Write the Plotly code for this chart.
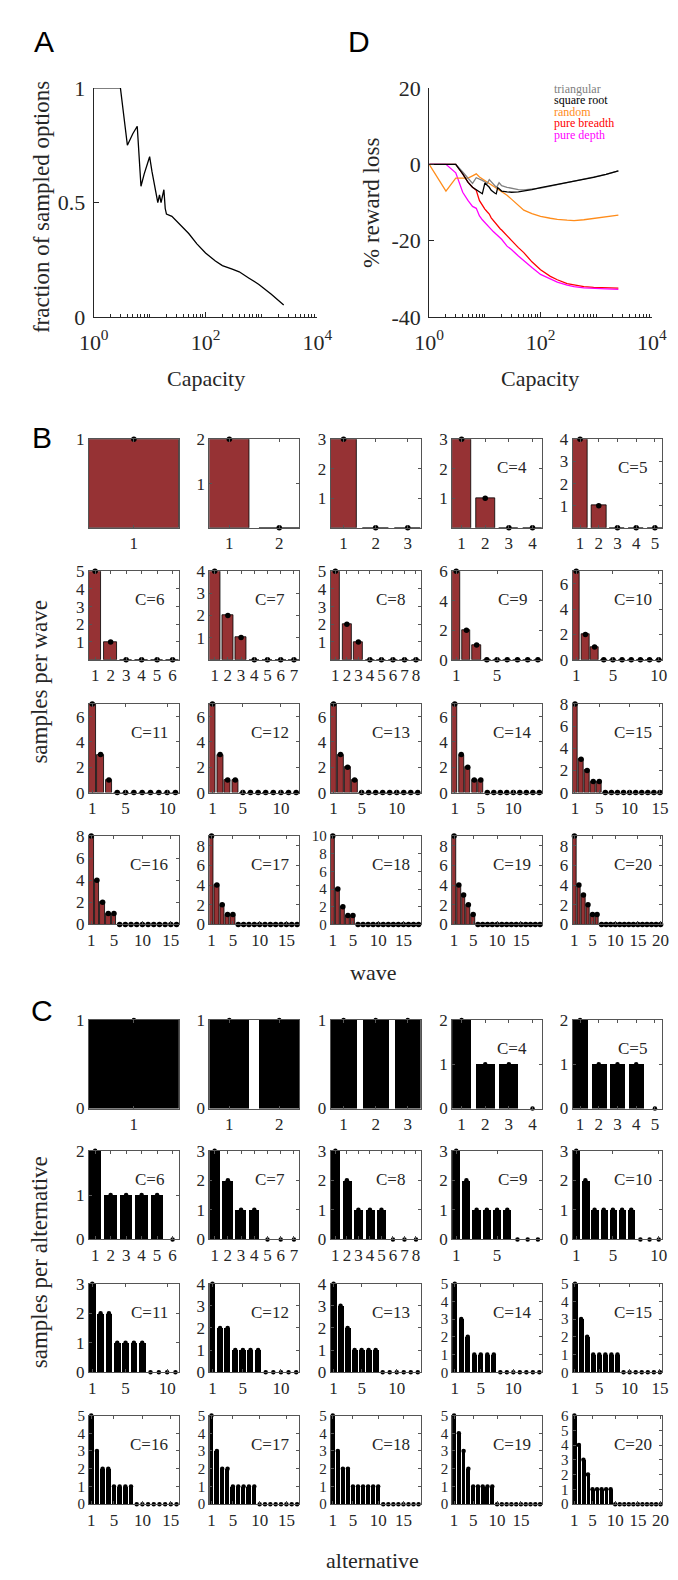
import plotly.graph_objects as go

W, H = 678, 1580

# ---------------- data ----------------
capacity = [1, 2, 3, 4, 5, 6, 7, 8, 9, 10, 11, 12, 13, 14, 15, 16, 17, 18, 19, 20,
            25, 30, 40, 50, 70, 100, 150, 200, 300, 400, 600, 900, 1500, 2500]

frac_sampled = [1, 1, 1, 0.75, 0.8, 0.833, 0.571, 0.625, 0.667, 0.7, 0.636, 0.583, 0.538, 0.5,
                0.533, 0.5, 0.529, 0.556, 0.474, 0.45,
                0.44, 0.42, 0.39, 0.365, 0.32, 0.28, 0.245, 0.225, 0.21, 0.198, 0.17, 0.143, 0.10, 0.053]

loss_triangular = [0, 0, 0, -2.0, -3.5, -5.0, -3.5, -3.8, -4.2, -4.6, -5.0, -4.0, -4.5, -5.0,
                   -5.5, -6.0, -5.5, -4.8, -5.2, -5.6,
                   -6.0, -6.3, -6.6, -6.7, -6.5, -6.2, -5.7, -5.3, -4.8, -4.5, -3.9, -3.4, -2.6, -1.7]
loss_sqrt = [0, 0, 0, -2.5, -4.7, -6.0, -6.7, -7.3, -7.7, -4.9, -5.5, -6.0, -6.8, -7.3,
             -7.5, -7.7, -6.1, -6.4, -6.8, -7.0,
             -7.2, -7.3, -7.2, -7.0, -6.6, -6.1, -5.6, -5.2, -4.8, -4.5, -3.9, -3.4, -2.6, -1.7]
loss_random = [0, -7.0, -3.6, -3.5, -3.6, -3.0, -2.5, -3.3, -3.8, -4.2, -4.6, -4.9, -5.3, -5.6,
               -5.9, -6.2, -6.4, -6.6, -6.8, -7.0,
               -8.1, -9.1, -10.8, -12.0, -12.9, -13.6, -14.1, -14.4, -14.6, -14.7, -14.5, -14.2, -13.8, -13.3]
loss_breadth = [0, 0, 0, -2.5, -4.7, -6.0, -6.8, -9.5, -10.8, -11.7, -12.4, -13.0, -14.0, -14.6,
                -15.2, -15.7, -16.2, -16.6, -16.9, -17.2,
                -18.8, -19.9, -21.8, -23.1, -25.5, -27.6, -29.3, -30.2, -31.2, -31.6, -32.0, -32.2, -32.3, -32.4]
loss_depth = [0, 0, -2.2, -7.3, -9.5, -11.0, -11.5, -13.5, -14.5, -15.3, -16.0, -16.5, -17.0, -17.5,
              -17.9, -18.3, -18.7, -19.0, -19.3, -19.6,
              -21.4, -22.3, -24.0, -25.3, -27.0, -28.8, -30.0, -30.8, -31.6, -32.0, -32.3, -32.5, -32.6, -32.7]

strategy_names = ["triangular", "square root", "random", "pure breadth", "pure depth"]
strategy_colors = ["#808080", "#000000", "#ff8c1a", "#ff0000", "#ff00ff"]

samples_per_wave = [
    [1],
    [2, 0],
    [3, 0, 0],
    [3, 1, 0, 0],
    [4, 1, 0, 0, 0],
    [5, 1, 0, 0, 0, 0],
    [4, 2, 1, 0, 0, 0, 0],
    [5, 2, 1, 0, 0, 0, 0, 0],
    [6, 2, 1, 0, 0, 0, 0, 0, 0],
    [7, 2, 1, 0, 0, 0, 0, 0, 0, 0],
    [7, 3, 1, 0, 0, 0, 0, 0, 0, 0, 0],
    [7, 3, 1, 1, 0, 0, 0, 0, 0, 0, 0, 0],
    [7, 3, 2, 1, 0, 0, 0, 0, 0, 0, 0, 0, 0],
    [7, 3, 2, 1, 1, 0, 0, 0, 0, 0, 0, 0, 0, 0],
    [8, 3, 2, 1, 1, 0, 0, 0, 0, 0, 0, 0, 0, 0, 0],
    [8, 4, 2, 1, 1, 0, 0, 0, 0, 0, 0, 0, 0, 0, 0, 0],
    [9, 4, 2, 1, 1, 0, 0, 0, 0, 0, 0, 0, 0, 0, 0, 0, 0],
    [10, 4, 2, 1, 1, 0, 0, 0, 0, 0, 0, 0, 0, 0, 0, 0, 0, 0],
    [9, 4, 3, 2, 1, 0, 0, 0, 0, 0, 0, 0, 0, 0, 0, 0, 0, 0, 0],
    [9, 4, 3, 2, 1, 1, 0, 0, 0, 0, 0, 0, 0, 0, 0, 0, 0, 0, 0, 0],
]

samples_per_alt = [
    [1],
    [1, 1],
    [1, 1, 1],
    [2, 1, 1, 0],
    [2, 1, 1, 1, 0],
    [2, 1, 1, 1, 1, 0],
    [3, 2, 1, 1, 0, 0, 0],
    [3, 2, 1, 1, 1, 0, 0, 0],
    [3, 2, 1, 1, 1, 1, 0, 0, 0],
    [3, 2, 1, 1, 1, 1, 1, 0, 0, 0],
    [3, 2, 2, 1, 1, 1, 1, 0, 0, 0, 0],
    [4, 2, 2, 1, 1, 1, 1, 0, 0, 0, 0, 0],
    [4, 3, 2, 1, 1, 1, 1, 0, 0, 0, 0, 0, 0],
    [5, 3, 2, 1, 1, 1, 1, 0, 0, 0, 0, 0, 0, 0],
    [5, 3, 2, 1, 1, 1, 1, 1, 0, 0, 0, 0, 0, 0, 0],
    [5, 3, 2, 2, 1, 1, 1, 1, 0, 0, 0, 0, 0, 0, 0, 0],
    [5, 3, 2, 2, 1, 1, 1, 1, 1, 0, 0, 0, 0, 0, 0, 0, 0],
    [5, 3, 2, 2, 1, 1, 1, 1, 1, 1, 0, 0, 0, 0, 0, 0, 0, 0],
    [5, 4, 3, 2, 1, 1, 1, 1, 1, 0, 0, 0, 0, 0, 0, 0, 0, 0, 0],
    [6, 4, 3, 2, 1, 1, 1, 1, 1, 0, 0, 0, 0, 0, 0, 0, 0, 0, 0, 0],
]

# ---------------- layout helpers ----------------
SERIF = "Liberation Serif"
SANS = "Liberation Sans"
AX = "#262626"
BAR_RED = "#963234"


def px_x(x):
    return x / W


def px_y(y):
    return 1 - y / H


fig = go.Figure()
layout = {}
annotations = []


def axkeys(i):
    return ("xaxis" if i == 1 else f"xaxis{i}", "yaxis" if i == 1 else f"yaxis{i}",
            "x" if i == 1 else f"x{i}", "y" if i == 1 else f"y{i}")


def note(text, x, y, size, color=AX, family=SERIF, angle=0, xanchor="center", yanchor="middle"):
    annotations.append(dict(text=text, x=px_x(x), y=px_y(y), xref="paper", yref="paper",
                            showarrow=False, textangle=angle, xanchor=xanchor, yanchor=yanchor,
                            font=dict(family=family, size=size, color=color)))


minor_vals = [m * 10 ** d for d in range(4) for m in range(2, 10)] + [10, 1000]
log_ticks = [1, 100, 10000]
log_text = ["10<sup>0</sup>", "10<sup>2</sup>", "10<sup>4</sup>"]


def log_xaxis(x0, x1, anchor):
    return dict(domain=[px_x(x0), px_x(x1)], anchor=anchor, type="log", range=[0, 4],
                tickmode="array", tickvals=log_ticks, ticktext=log_text,
                ticks="inside", ticklen=5, tickcolor=AX, showline=True, linecolor=AX,
                linewidth=1, showgrid=False, zeroline=False, ticklabelstandoff=5,
                tickfont=dict(family=SERIF, size=22, color=AX),
                minor=dict(tickmode="array", tickvals=minor_vals, ticks="inside",
                           ticklen=3, tickcolor=AX, showgrid=False))


# ---------------- Panel A ----------------
xa, ya, xr, yr = axkeys(1)
fig.add_trace(go.Scatter(x=capacity, y=frac_sampled, mode="lines",
                         line=dict(color="black", width=1.3), xaxis=xr, yaxis=yr,
                         showlegend=False))
layout[xa] = log_xaxis(74, 308, yr)
layout[ya] = dict(domain=[px_y(302), px_y(69)], anchor=xr, range=[0, 1],
                  tickmode="array", tickvals=[0, 0.5, 1], ticktext=["0", "0.5", "1"],
                  ticks="inside", ticklen=5, tickcolor=AX, showline=True, linecolor=AX,
                  linewidth=1, showgrid=False, zeroline=False, ticklabelstandoff=3,
                  tickfont=dict(family=SERIF, size=22, color=AX))
note("A", 22, 22, 30, color="black", family=SANS)
note("fraction of sampled options", 20, 190, 23, angle=-90)
note("Capacity", 191, 364, 22)

# ---------------- Panel D ----------------
xa, ya, xr, yr = axkeys(2)
series = [loss_triangular, loss_sqrt, loss_random, loss_breadth, loss_depth]
draw_order = [3, 4, 2, 0, 1]
for k in draw_order:
    fig.add_trace(go.Scatter(x=capacity, y=series[k], mode="lines",
                             line=dict(color=strategy_colors[k], width=1.3),
                             xaxis=xr, yaxis=yr, showlegend=False))
layout[xa] = log_xaxis(425, 658, yr)
layout[ya] = dict(domain=[px_y(302), px_y(69)], anchor=xr, range=[-40, 20],
                  tickmode="array", tickvals=[-40, -20, 0, 20], ticktext=["-40", "-20", "0", "20"],
                  ticks="inside", ticklen=5, tickcolor=AX, showline=True, linecolor=AX,
                  linewidth=1, showgrid=False, zeroline=False, ticklabelstandoff=3,
                  tickfont=dict(family=SERIF, size=22, color=AX))
note("D", 352, 22, 30, color="black", family=SANS)
note("% reward loss", 364, 186, 23, angle=-90)
note("Capacity", 541, 364, 22)
for j, (nm, col) in enumerate(zip(strategy_names, strategy_colors)):
    note(nm, 553, 70 + j * 11.7, 12, color=col, xanchor="left")

# ---------------- Panels B and C ----------------
col_left = [69, 195, 322, 449, 575]
col_w = 94
row_h = 90
B_tops = [426, 560, 695, 829]
C_tops = [1016, 1149, 1284, 1418]


def xticks_for(n):
    if n <= 8:
        return list(range(1, n + 1))
    return [1] + [t for t in (5, 10, 15, 20) if t <= n]


def small_panel(idx, data, top, left, bar_color, line_w, yticks, dot):
    xa, ya, xr, yr = axkeys(idx)
    n = len(data)
    xs = list(range(1, n + 1))
    fig.add_trace(go.Bar(x=xs, y=data, width=0.8, xaxis=xr, yaxis=yr,
                         marker=dict(color=bar_color, line=dict(color="black", width=line_w)),
                         showlegend=False))
    fig.add_trace(go.Scatter(x=xs, y=data, mode="markers", xaxis=xr, yaxis=yr,
                             marker=dict(color="black", size=dot), cliponaxis=False,
                             showlegend=False))
    xt = xticks_for(n)
    yfs = 17 if len(yticks) <= 5 else 15
    common = dict(ticks="inside", ticklen=3, tickcolor="#555555", showline=True,
                  linecolor="#555555", linewidth=1, mirror="ticks", showgrid=False,
                  zeroline=False)
    layout[xa] = dict(domain=[px_x(left), px_x(left + col_w)], anchor=yr,
                      range=[0.6, n + 0.4], tickmode="array", tickvals=xt,
                      ticktext=[str(t) for t in xt],
                      tickfont=dict(family=SERIF, size=17, color=AX), **common)
    layout[ya] = dict(domain=[px_y(top + row_h), px_y(top)], anchor=xr,
                      range=[0, max(data)], tickmode="array", tickvals=yticks,
                      ticktext=[str(t) for t in yticks],
                      tickfont=dict(family=SERIF, size=yfs, color=AX), **common)
    if n >= 4:
        note(f"C={n}", left + col_w * 0.67, top + 29, 17)


for c in range(20):
    data = samples_per_wave[c]
    mx = max(data)
    if c < 8:
        yt = list(range(1, mx + 1))
    else:
        yt = list(range(0, mx + 1, 2))
    small_panel(3 + c, data, B_tops[c // 5], col_left[c % 5], BAR_RED, 0.8, yt, 5.5)

for c in range(20):
    data = samples_per_alt[c]
    yt = list(range(0, max(data) + 1))
    small_panel(23 + c, data, C_tops[c // 5], col_left[c % 5], "black", 0, yt, 4.5)

note("B", 20, 424, 30, color="black", family=SANS)
note("samples per wave", 17, 672, 23, angle=-90)
note("wave", 366, 968, 22)
note("C", 20, 1006, 30, color="black", family=SANS)
note("samples per alternative", 17, 1262, 23, angle=-90)
note("alternative", 366, 1565, 22)

fig.update_layout(width=W, height=H, margin=dict(l=0, r=0, t=0, b=0),
                  paper_bgcolor="white", plot_bgcolor="white", bargap=0,
                  annotations=annotations, **layout)

fig.write_html("out.html")
